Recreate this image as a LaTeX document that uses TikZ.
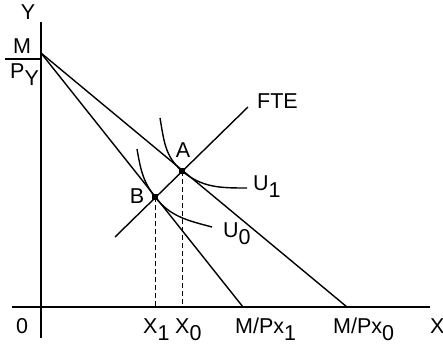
\documentclass[tikz,border=0pt]{standalone}
\usepackage{fontspec}
\setmainfont{Liberation Sans}
\usepackage{tikz}
\usetikzlibrary{positioning}
\tikzstyle{axis} = [line width=1.1pt]
\tikzstyle{budget} = [line width=1.4pt]
\tikzstyle{guide} = [line width=1pt, dash pattern=on 5pt off 3pt]
\tikzstyle{lbl} = [inner sep=0pt, font=\fontsize{21.5}{25}\selectfont]
\tikzstyle{dot} = [rectangle, fill=black, inner sep=0pt, minimum size=6pt]
\newcommand{\lowidx}[1]{\raisebox{-7pt}{#1}}

\begin{document}
\begin{tikzpicture}[x=1pt, y=1pt]
    \useasboundingbox (-41,-39) rectangle (402,307);
    % axes
    \coordinate (ytop) at (0,285);
    \coordinate (ybot) at (0,-31);
    \coordinate (xleft) at (-29,0);
    \coordinate (xright) at (389,0);
    \draw [axis] (ybot) -- (ytop);
    \draw [axis] (xleft) -- (xright);
    \node (ylab) [lbl, anchor=base] at (-13,287) {Y};
    \node (xlab) [lbl, anchor=base west] at (389,-26) {X};
    \node (orig) [lbl, anchor=base] at (-19,-26) {0};
    % intercepts
    \coordinate (M) at (0,254);
    \coordinate (fracl) at (-36,248);
    \coordinate (fracr) at (0,248);
    \draw [axis] (fracl) -- (fracr);
    \node (mlab) [lbl, anchor=base] at (-19,254) {M};
    \node (pylab) [lbl, anchor=base west] at (-31,229) {P\lowidx{Y}};
    \coordinate (px0) at (306,0);
    \coordinate (px1) at (202,0);
    \draw [budget] (M) -- (px0);
    \draw [budget] (M) -- (px1);
    \node (px1lab) [lbl, anchor=base west] at (194,-26) {M/Px\lowidx{1}};
    \node (px0lab) [lbl, anchor=base west] at (292,-26) {M/Px\lowidx{0}};
    % FTE line and optima
    \coordinate (fte1) at (74,70);
    \coordinate (fte2) at (207,200);
    \draw [budget] (fte1) -- (fte2);
    \node (ftelab) [lbl, anchor=base west] at (216,199) {FTE};
    \node (A) [dot] at (141,136) {};
    \node (B) [dot] at (114,110) {};
    \node (alab) [lbl, anchor=base] at (142,150) {A};
    \node (blab) [lbl, anchor=base] at (96,104) {B};
    \coordinate (x0) at (141,0);
    \coordinate (x1) at (114,0);
    \draw [guide] (A.center) -- (x0);
    \draw [guide] (B.center) -- (x1);
    \node (x0lab) [lbl, anchor=base west] at (134,-26) {X\lowidx{0}};
    \node (x1lab) [lbl, anchor=base west] at (102,-26) {X\lowidx{1}};
    % indifference curves
    \coordinate (u1a) at (119,189);
    \coordinate (u1b) at (206,119);
    \coordinate (u0a) at (96,158);
    \coordinate (u0b) at (171,80);
    \draw [budget] (u1a) to[out=-80,in=140] (A.center) to[out=-40,in=180] (u1b);
    \draw [budget] (u0a) to[out=-80,in=128] (B.center) to[out=-52,in=165] (u0b);
    \node (u1lab) [lbl, anchor=base west] at (212,117) {U\lowidx{1}};
    \node (u0lab) [lbl, anchor=base west] at (182,70) {U\lowidx{0}};
\end{tikzpicture}
\end{document}
